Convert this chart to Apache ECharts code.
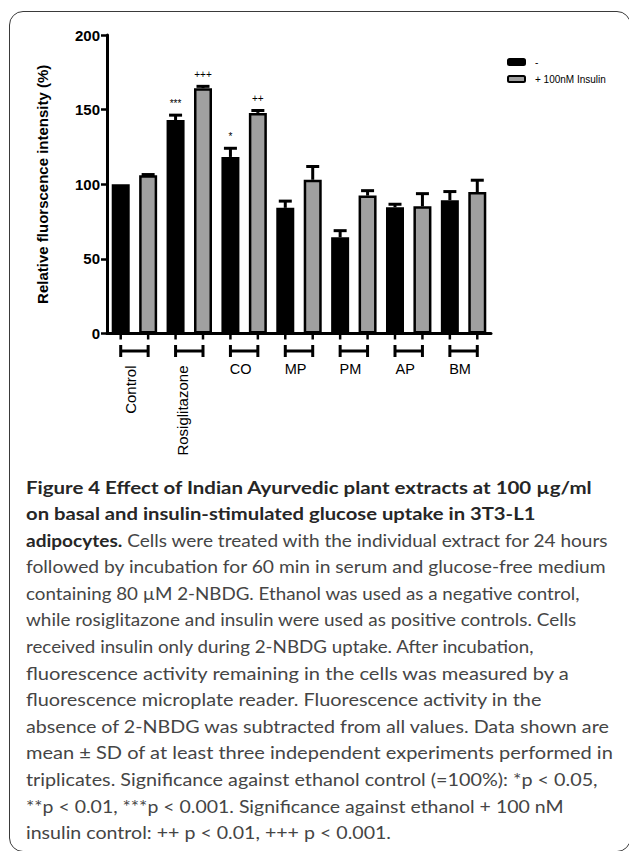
<!DOCTYPE html>
<html>
<head>
<meta charset="utf-8">
<script src="https://cdn.jsdelivr.net/npm/echarts@6/dist/echarts.min.js"></script>
<style>
html,body{margin:0;padding:0;background:#fff;width:629px;height:851px;overflow:hidden;}
#chart{position:absolute;left:0;top:0;width:629px;height:851px;}
#frame{position:absolute;left:9px;top:11px;width:622px;height:841px;border:1.5px solid #3a3a3a;border-radius:14px;box-sizing:border-box;pointer-events:none;}
#caption{position:absolute;left:26px;top:474.5px;font-family:Lato,"Open Sans",sans-serif;font-size:17.3px;line-height:26.6px;color:#454545;}
#caption .ln{white-space:nowrap;transform-origin:0 50%;width:max-content;}
#caption b{color:#262626;font-weight:700;}
</style>
</head>
<body>
<div id="chart"></div>
<div id="frame"></div>
<div id="caption">
<div class="ln"><b>Figure 4 Effect of Indian Ayurvedic plant extracts at 100 µg/ml</b></div>
<div class="ln"><b>on basal and insulin-stimulated glucose uptake in 3T3-L1</b></div>
<div class="ln"><b>adipocytes.</b> Cells were treated with the individual extract for 24 hours</div>
<div class="ln">followed by incubation for 60 min in serum and glucose-free medium</div>
<div class="ln">containing 80 µM 2-NBDG. Ethanol was used as a negative control,</div>
<div class="ln">while rosiglitazone and insulin were used as positive controls. Cells</div>
<div class="ln">received insulin only during 2-NBDG uptake. After incubation,</div>
<div class="ln">fluorescence activity remaining in the cells was measured by a</div>
<div class="ln">fluorescence microplate reader. Fluorescence activity in the</div>
<div class="ln">absence of 2-NBDG was subtracted from all values. Data shown are</div>
<div class="ln">mean ± SD of at least three independent experiments performed in</div>
<div class="ln">triplicates. Significance against ethanol control (=100%): *p &lt; 0.05,</div>
<div class="ln">**p &lt; 0.01, ***p &lt; 0.001. Significance against ethanol + 100 nM</div>
<div class="ln">insulin control: ++ p &lt; 0.01, +++ p &lt; 0.001.</div>
</div>
<script>
// ---- data ----
const groups = ['Control', 'Rosiglitazone', 'CO', 'MP', 'PM', 'AP', 'BM'];
const rotatedGroups = ['Control', 'Rosiglitazone'];
const seriesNames = ['-', '+ 100nM Insulin'];
const basal = [100, 143, 118.3, 84.2, 64.5, 84.6, 89.3];
const basalSD = [0, 3.3, 5.8, 4.5, 4.4, 2.0, 5.8];
const insulin = [106, 164.4, 147.8, 103, 92.4, 85.2, 94.8];
const insulinSD = [0.5, 1.2, 1.6, 8.9, 3.3, 8.5, 7.9];
const basalSig = ['', '***', '*', '', '', '', ''];
const insulinSig = ['', '+++', '++', '', '', '', ''];
const yMin = 0, yMax = 200, yStep = 50;
const yTitle = 'Relative fluorscence intensity (%)';

// ---- chart ----
const FONT = '"Liberation Sans", Arial, sans-serif';
const gridBox = {left: 107, right: 138, top: 35, bottom: 517.5};

function errorSeries(means, sds, sig, side) {
  return {
    type: 'custom', xAxisIndex: 0, yAxisIndex: 0, z: 5, silent: true, clip: false,
    itemStyle: {color: '#000'},
    data: groups.map((g, i) => [i, means[i], sds[i]]),
    renderItem: function (params, api) {
      const i = api.value(0), m = api.value(1), sd = api.value(2);
      const bw = api.size([1, 0])[0];
      const base = api.coord([i, m]);
      const top = api.coord([i, m + sd]);
      const x = base[0] + side * bw / 4;
      const children = [];
      if (sd > 0) {
        children.push({type: 'line', shape: {x1: x, y1: base[1], x2: x, y2: top[1]}, style: {stroke: '#000', lineWidth: 3}});
        children.push({type: 'line', shape: {x1: x - 6.5, y1: top[1], x2: x + 6.5, y2: top[1]}, style: {stroke: '#000', lineWidth: 3}});
      }
      const s = sig[params.dataIndex];
      if (s) {
        children.push({type: 'text', style: {text: s, x: x, y: top[1] - 7, align: 'center', verticalAlign: 'bottom', fontSize: 10, fontFamily: FONT, fill: '#000', textFill: '#000'}});
      }
      return {type: 'group', children: children};
    }
  };
}

const bracketSeries = {
  type: 'custom', xAxisIndex: 0, yAxisIndex: 0, z: 5, silent: true, clip: false,
  itemStyle: {color: '#000'},
  data: groups.map((g, i) => [i, 0]),
  renderItem: function (params, api) {
    const c = api.coord([api.value(0), 0]);
    const bw = api.size([1, 0])[0];
    const x1 = c[0] - bw / 4, x2 = c[0] + bw / 4;
    const y0 = c[1], y = c[1] + 17.5;
    const st = {stroke: '#000', lineWidth: 3};
    const tk = {stroke: '#000', lineWidth: 2.5};
    return {type: 'group', children: [
      {type: 'line', shape: {x1: x1, y1: y0, x2: x1, y2: y0 + 6}, style: tk},
      {type: 'line', shape: {x1: x2, y1: y0, x2: x2, y2: y0 + 6}, style: tk},
      {type: 'line', shape: {x1: x1, y1: y, x2: x2, y2: y}, style: st},
      {type: 'line', shape: {x1: x1, y1: y - 6, x2: x1, y2: y + 6}, style: st},
      {type: 'line', shape: {x1: x2, y1: y - 6, x2: x2, y2: y + 6}, style: st}
    ]};
  }
};

const chart = echarts.init(document.getElementById('chart'), null, {renderer: 'svg'});
chart.setOption({
  animation: false,
  backgroundColor: 'transparent',
  grid: [Object.assign({}, gridBox), Object.assign({}, gridBox)],
  legend: {
    orient: 'vertical', left: 507, top: 57, padding: 0,
    itemWidth: 17, itemHeight: 6, itemGap: 7, icon: 'roundRect',
    data: seriesNames,
    itemStyle: {borderWidth: 2, borderColor: '#000'},
    textStyle: {fontSize: 10, color: '#000', fontFamily: FONT, padding: [0, 0, 0, 5]}
  },
  xAxis: [
    {
      type: 'category', gridIndex: 0, data: groups,
      axisLine: {show: true, lineStyle: {color: '#000', width: 3}},
      axisTick: {show: false},
      axisLabel: {
        interval: 0, margin: 28, fontSize: 14.5, color: '#000', fontFamily: FONT,
        padding: [0, 7, 0, 0],
        formatter: v => rotatedGroups.includes(v) ? '' : v
      },
      splitLine: {show: false}
    },
    {
      type: 'category', gridIndex: 1, data: groups,
      axisLine: {show: false}, axisTick: {show: false},
      axisLabel: {
        interval: 0, rotate: 90, margin: 32, fontSize: 15, color: '#000', fontFamily: FONT,
        padding: [0, 0, 8, 0],
        formatter: v => v === rotatedGroups[0] ? v : (v === rotatedGroups[1] ? '{r|' + v + '}' : ''),
        rich: {r: {fontSize: 15, color: '#000', fontFamily: FONT, padding: [0, 0, 6, 0]}}
      },
      splitLine: {show: false}
    }
  ],
  yAxis: [
    {
      type: 'value', gridIndex: 0, min: yMin, max: yMax, interval: yStep,
      name: yTitle, nameLocation: 'middle', nameGap: 57,
      nameTextStyle: {fontSize: 15, fontWeight: 'bold', color: '#000', fontFamily: FONT},
      axisLine: {show: true, lineStyle: {color: '#000', width: 3}},
      axisTick: {show: true, length: 6, lineStyle: {color: '#000', width: 2.5}},
      axisLabel: {margin: 7, fontSize: 15, fontWeight: 'bold', color: '#000', fontFamily: FONT},
      splitLine: {show: false}
    },
    {type: 'value', gridIndex: 1, min: yMin, max: yMax, show: false, splitLine: {show: false}}
  ],
  series: [
    {
      type: 'bar', name: seriesNames[0], xAxisIndex: 0, yAxisIndex: 0, data: basal,
      barWidth: 18, barGap: '52.4%',
      itemStyle: {color: '#000', borderColor: '#000', borderWidth: 2.5}
    },
    {
      type: 'bar', name: seriesNames[1], xAxisIndex: 0, yAxisIndex: 0, data: insulin,
      barWidth: 18, barGap: '52.4%',
      itemStyle: {color: '#a0a0a0', borderColor: '#000', borderWidth: 2.5}
    },
    errorSeries(basal, basalSD, basalSig, -1),
    errorSeries(insulin, insulinSD, insulinSig, 1),
    bracketSeries
  ]
});

// ---- caption line fitting (layout only) ----
const capRight = [591.7, 535.5, 607.7, 605.7, 579.6, 576.4, 533.5, 568.8, 541.5, 608.9, 612.9, 597.7, 563.6, 391.1];
const capLeft = 26.1;
document.querySelectorAll('#caption .ln').forEach((el, i) => {
  const w = el.getBoundingClientRect().width;
  const target = capRight[i] - capLeft;
  el.style.transform = 'scaleX(' + (target / w) + ')';
});
</script>
</body>
</html>
